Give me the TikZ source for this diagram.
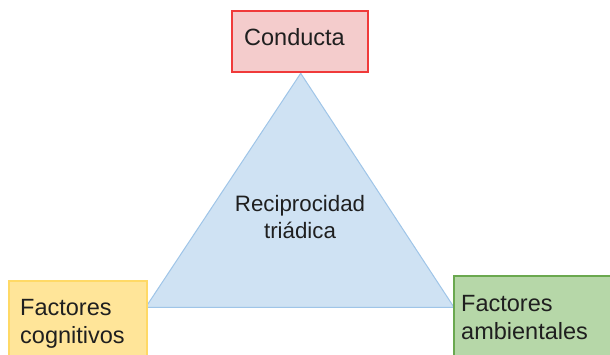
\documentclass[tikz,border=0pt]{standalone}
\usepackage{fontspec}
\setmainfont{Liberation Sans}
\definecolor{redfill}{HTML}{F4CCCC}
\definecolor{redline}{HTML}{F03A3A}
\definecolor{yelfill}{HTML}{FFE599}
\definecolor{yelline}{HTML}{FFD966}
\definecolor{grnfill}{HTML}{B6D7A8}
\definecolor{grnline}{HTML}{6AA84F}
\definecolor{blufill}{HTML}{CFE2F3}
\definecolor{bluline}{HTML}{9FC5E8}
\definecolor{txt}{HTML}{1F1F1F}
\begin{document}
\begin{tikzpicture}[x=1pt,y=-1pt,
  lbl/.style={inner sep=0pt,text=txt,font=\fontsize{23.5}{28}\selectfont,align=left},
  box/.style={line width=1.2pt}]
\useasboundingbox[fill=white] (0,0) rectangle (610,354);
% triangle
\coordinate (apex) at (300.7,73.3);
\coordinate (bl) at (145.7,307.3);
\coordinate (br) at (454,307.3);
\draw[fill=blufill,draw=bluline,line width=1pt,line join=miter] (apex) -- (bl) -- (br) -- cycle;
% boxes
\draw[box,fill=redfill,draw=redline] (232,11) rectangle (368,72);
\draw[box,fill=yelfill,draw=yelline] (9,281) rectangle (147,370);
\draw[box,fill=grnfill,draw=grnline] (454,276) rectangle (620,370);
% labels
\node[lbl,anchor=west] (conducta) at (244,37) {Conducta};
\node[lbl,anchor=center,align=center,font=\fontsize{22.3}{27}\selectfont] (recip) at (300,217) {Reciprocidad\\triádica};
\node[lbl,anchor=west] (cog) at (20,324) {Factores\\cognitivos};
\node[lbl,anchor=west] (amb) at (461,318) {Factores\\ambientales};
\end{tikzpicture}
\end{document}
